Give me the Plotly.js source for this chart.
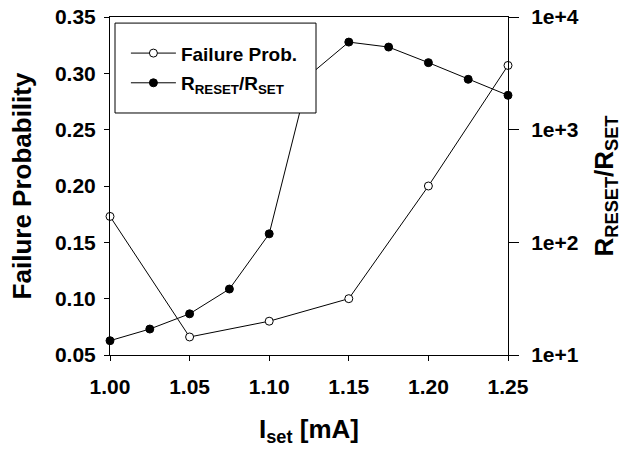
<!DOCTYPE html>
<html>
<head>
<meta charset="utf-8">
<script src="https://cdn.plot.ly/plotly-3.0.1.min.js"></script>
<style>html,body{margin:0;padding:0;background:#fff;}#chart{width:639px;height:453px;}</style>
</head>
<body>
<div id="chart"></div>
<script>
// Data
const failX = [1.00, 1.05, 1.10, 1.15, 1.20, 1.25];
const failY = [0.173, 0.066, 0.080, 0.100, 0.200, 0.307];
const ratioX = [1.00, 1.025, 1.05, 1.075, 1.10, 1.125, 1.15, 1.175, 1.20, 1.225, 1.25];
const ratioY = [13.4, 17.0, 23.2, 38.5, 119, 3030, 5990, 5410, 3935, 2800, 2018];
const xTicks = [1.00, 1.05, 1.10, 1.15, 1.20, 1.25];
const yTicks = [0.05, 0.10, 0.15, 0.20, 0.25, 0.30, 0.35];
const y2TickVals = [10, 100, 1000, 10000];
const y2TickText = ['1e+1', '1e+2', '1e+3', '1e+4'];

const FONT = 'Liberation Sans, Arial, sans-serif';

const traces = [
  {
    x: failX, y: failY, type: 'scatter', mode: 'lines+markers',
    name: 'Failure Prob.', legendgroup: 'a',
    line: {color: '#000', width: 1},
    marker: {symbol: 'circle', size: 8, color: '#fff', line: {color: '#000', width: 1}},
    cliponaxis: false
  },
  {
    x: ratioX, y: ratioY, type: 'scatter', mode: 'lines+markers', yaxis: 'y2',
    name: 'R<sub>RESET</sub>/R<sub>SET</sub>', legendgroup: 'b',
    line: {color: '#000', width: 1},
    marker: {symbol: 'circle', size: 8, color: '#000', line: {color: '#000', width: 1}},
    cliponaxis: false
  }
];

const layout = {
  width: 639, height: 453,
  margin: {l: 110, r: 131, t: 17, b: 98, pad: 0},
  paper_bgcolor: '#fff', plot_bgcolor: '#fff',
  font: {family: FONT, color: '#000', size: 20, weight: 'bold'},
  showlegend: true,
  legend: {
    x: 0.04, y: 0.949, xanchor: 'left', yanchor: 'top',
    bgcolor: 'rgba(0,0,0,0)', borderwidth: 0,
    font: {family: FONT, size: 19, color: '#000', weight: 'bold'},
    tracegroupgap: 2, itemwidth: 45
  },
  shapes: [{
    type: 'rect', xref: 'paper', yref: 'paper',
    x0: 0.0126, x1: 0.5176, y0: 0.716, y1: 0.982,
    fillcolor: '#fff', line: {color: '#000', width: 1}, layer: 'above'
  }],
  xaxis: {
    range: [1.0, 1.25], tickvals: xTicks, tickformat: '.2f',
    showline: true, linecolor: '#000', linewidth: 1, mirror: true,
    ticks: 'outside', ticklen: 5, tickcolor: '#000', tickwidth: 1,
    showgrid: false, zeroline: false,
    tickfont: {family: FONT, size: 21, weight: 'bold'},
    ticklabelstandoff: 8,
    title: {text: 'I<sub>set</sub> [mA]', font: {family: FONT, size: 26, weight: 'bold'}, standoff: 22}
  },
  yaxis: {
    range: [0.05, 0.35], tickvals: yTicks, tickformat: '.2f',
    showline: true, linecolor: '#000', linewidth: 1,
    ticks: 'outside', ticklen: 5, tickcolor: '#000', tickwidth: 1,
    showgrid: false, zeroline: false,
    tickfont: {family: FONT, size: 21, weight: 'bold'},
    ticklabelstandoff: 4,
    title: {text: 'Failure Probability', font: {family: FONT, size: 26, weight: 'bold'}, standoff: 15}
  },
  yaxis2: {
    type: 'log', range: [1, 4], overlaying: 'y', side: 'right',
    tickvals: y2TickVals, ticktext: y2TickText,
    showline: true, linecolor: '#000', linewidth: 1,
    ticks: 'outside', ticklen: 10, tickcolor: '#000', tickwidth: 1,
    showgrid: false, zeroline: false,
    tickfont: {family: FONT, size: 21, weight: 'bold'},
    ticklabelstandoff: 8,
    title: {text: 'R<sub>RESET</sub>/R<sub>SET</sub>', font: {family: FONT, size: 26, weight: 'bold'}, standoff: 16}
  }
};

Plotly.newPlot('chart', traces, layout, {displayModeBar: false, staticPlot: true});
</script>
</body>
</html>
